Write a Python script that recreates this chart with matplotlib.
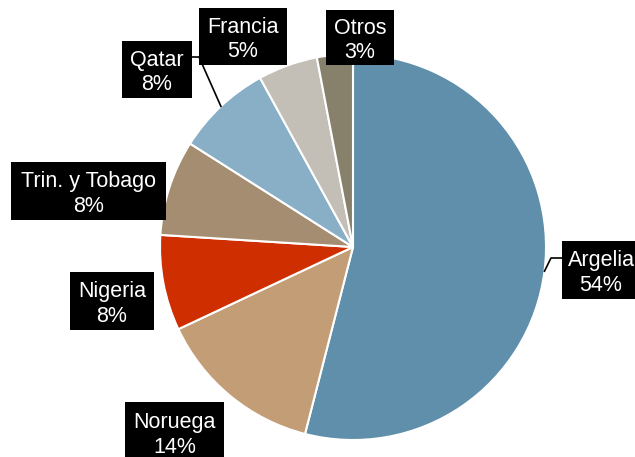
import numpy as np
import matplotlib.pyplot as plt
from matplotlib.patches import Rectangle

plt.rcParams['font.family'] = ['Liberation Sans', 'DejaVu Sans']

W, H = 635, 457

countries = ["Argelia", "Noruega", "Nigeria", "Trin. y Tobago", "Qatar", "Francia", "Otros"]
shares = [54, 14, 8, 8, 8, 5, 3]
colors = ["#5f8fab", "#c29d75", "#cf2e00", "#a58d72", "#88afc6", "#c3beb6", "#87806b"]

# label boxes: (left, top, width, height) in pixels from the top-left corner
boxes = {
    "Argelia": (562, 241, 90, 58),
    "Noruega": (125, 402, 99, 60),
    "Nigeria": (70, 272, 84, 58),
    "Trin. y Tobago": (11, 162, 155, 58),
    "Qatar": (122, 41, 70, 57),
    "Francia": (199, 8, 88, 57),
    "Otros": (326, 10, 68, 55),
}
# elbows for the leader lines
leaders = {
    "Argelia": [(551, 258), (562, 258)],
    "Qatar": [(199, 57), (192, 57)],
}

cx, cy, r = 353, 247, 193

fig = plt.figure(figsize=(W / 100, H / 100), dpi=100)
ax = fig.add_axes([0, 0, 1, 1])

wedges, _ = ax.pie(shares, colors=colors, startangle=90, counterclock=False,
                   center=(cx, H - cy), radius=r,
                   wedgeprops=dict(edgecolor="white", linewidth=1.5))

for w, name, val in zip(wedges, countries, shares):
    left, top, bw, bh = boxes[name]
    ax.add_patch(Rectangle((left, H - top - bh), bw, bh, facecolor="black",
                           edgecolor="none", zorder=3, clip_on=False))
    tx = left + bw / 2
    if name == "Argelia":
        tx = left + 39
    ax.text(tx, H - (top + bh / 2) - 3, f"{name}\n{val}%", color="white",
            ha="center", va="center", fontsize=15.5, linespacing=1.22, zorder=4)
    if name in leaders:
        mid = np.deg2rad((w.theta1 + w.theta2) / 2)
        ex = cx + r * np.cos(mid)
        ey = H - cy + r * np.sin(mid)
        xs = [ex] + [p[0] for p in leaders[name]]
        ys = [ey] + [H - p[1] for p in leaders[name]]
        ax.plot(xs, ys, color="black", linewidth=1.2, zorder=2)

ax.set_xlim(0, W)
ax.set_ylim(0, H)
ax.set_aspect("equal")
ax.axis("off")

fig.savefig("out.png", dpi=100)
